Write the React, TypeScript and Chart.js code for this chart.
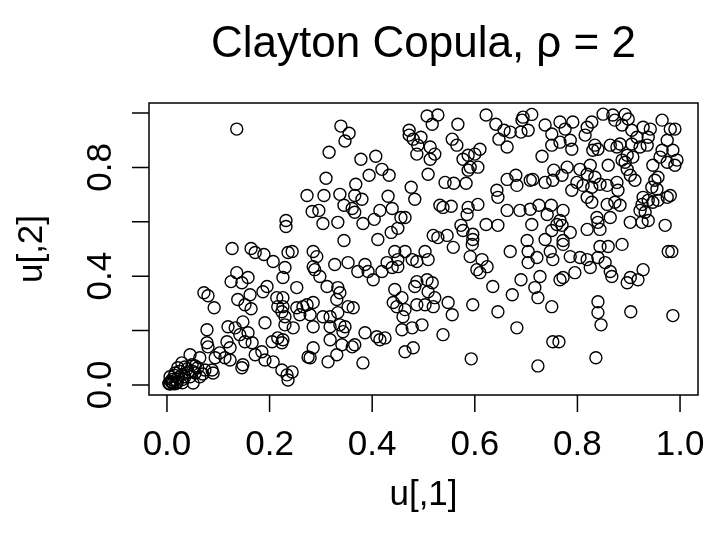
import { useEffect, useRef } from "react";
import { Chart, registerables } from "chart.js";

Chart.register(...registerables);

const titleText = "Clayton Copula, \u03c1 = 2";
const xLabel = "u[,1]";
const yLabel = "u[,2]";
const xTicks = [0, 0.2, 0.4, 0.6, 0.8, 1.0];
const xTickLabels = ["0.0", "0.2", "0.4", "0.6", "0.8", "1.0"];
const yTicks = [0, 0.2, 0.4, 0.6, 0.8, 1.0];
const yTickLabels = ["0.0", "", "0.4", "", "0.8", ""];
const xRange = [-0.035, 1.035];
const yRange = [-0.037, 1.037];

// simulated copula sample, read off the picture region by region
const lowCorner: [number, number][] = [
  [0.127, 0.502], [0.164, 0.502], [0.172, 0.487], [0.189, 0.48], [0.207, 0.454], [0.136, 0.413], [0.125, 0.38], [0.146, 0.376], [0.158, 0.395], [0.072, 0.339],
  [0.08, 0.328], [0.092, 0.284], [0.162, 0.332], [0.138, 0.314], [0.152, 0.295], [0.164, 0.28], [0.187, 0.343], [0.195, 0.362], [0.214, 0.321], [0.216, 0.288],
  [0.078, 0.203], [0.119, 0.214], [0.133, 0.21], [0.148, 0.232], [0.142, 0.185], [0.158, 0.192], [0.152, 0.159], [0.166, 0.155], [0.117, 0.159], [0.123, 0.137],
  [0.191, 0.229], [0.216, 0.173], [0.205, 0.159], [0.078, 0.155], [0.08, 0.14], [0.103, 0.118], [0.113, 0.1], [0.123, 0.092], [0.094, 0.1], [0.172, 0.111],
  [0.185, 0.122], [0.191, 0.092], [0.207, 0.085], [0.148, 0.074], [0.146, 0.063], [0.224, 0.055], [0.045, 0.111], [0.064, 0.1], [0.088, 0.055], [0.09, 0.044],
  [0.074, 0.055], [0.055, 0.044], [0.029, 0.081], [0.035, 0.066], [0.021, 0.063], [0.049, 0.074], [0.06, 0.063], [0.041, 0.048], [0.029, 0.037], [0.016, 0.044],
  [0.006, 0.03], [0.01, 0.011], [0.004, 0.005], [0.012, 0.005], [0.019, 0.007], [0.021, 0.026], [0.035, 0.03], [0.051, 0.007], [0.064, 0.03], [0.016, 0.004],
  [0.006, 0.003], [0.004, 0.007], [0.01, 0.02], [0.02, 0.012], [0.015, 0.035], [0.03, 0.02], [0.025, 0.05], [0.04, 0.06], [0.045, 0.03], [0.05, 0.05],
  [0.055, 0.07], [0.07, 0.04], [0.008, 0.012], [0.03, 0.008],
];

const lowMiddle: [number, number][] = [
  [0.236, 0.487], [0.244, 0.491], [0.285, 0.491], [0.292, 0.472], [0.285, 0.435], [0.288, 0.424], [0.298, 0.399], [0.312, 0.362], [0.327, 0.443], [0.353, 0.45],
  [0.372, 0.417], [0.386, 0.443], [0.392, 0.417], [0.402, 0.387], [0.419, 0.417], [0.429, 0.45], [0.439, 0.432], [0.45, 0.435], [0.45, 0.461], [0.444, 0.491],
  [0.464, 0.491], [0.478, 0.461], [0.487, 0.38], [0.483, 0.362], [0.23, 0.432], [0.226, 0.395], [0.253, 0.358], [0.333, 0.358], [0.337, 0.339], [0.331, 0.314],
  [0.444, 0.351], [0.458, 0.321], [0.441, 0.303], [0.448, 0.288], [0.464, 0.277], [0.46, 0.251], [0.487, 0.295], [0.226, 0.321], [0.226, 0.288], [0.23, 0.251],
  [0.224, 0.269], [0.253, 0.284], [0.265, 0.288], [0.273, 0.295], [0.285, 0.303], [0.259, 0.258], [0.279, 0.258], [0.246, 0.21], [0.285, 0.214], [0.304, 0.251],
  [0.318, 0.251], [0.333, 0.266], [0.353, 0.288], [0.363, 0.284], [0.318, 0.214], [0.337, 0.221], [0.347, 0.214], [0.343, 0.196], [0.318, 0.166], [0.341, 0.148],
  [0.361, 0.14], [0.366, 0.148], [0.386, 0.192], [0.409, 0.177], [0.415, 0.166], [0.425, 0.173], [0.285, 0.137], [0.275, 0.103], [0.279, 0.1], [0.314, 0.085],
  [0.331, 0.111], [0.382, 0.081], [0.458, 0.203], [0.478, 0.21], [0.464, 0.122], [0.48, 0.137], [0.23, 0.221], [0.226, 0.166], [0.224, 0.155], [0.234, 0.037],
  [0.244, 0.048], [0.236, 0.018],
];

const upperLeft: [number, number][] = [
  [0.136, 0.941], [0.339, 0.952], [0.355, 0.926], [0.347, 0.897], [0.316, 0.856], [0.378, 0.83], [0.407, 0.841], [0.419, 0.793], [0.433, 0.771], [0.394, 0.771],
  [0.31, 0.76], [0.368, 0.738], [0.273, 0.697], [0.306, 0.697], [0.337, 0.701], [0.366, 0.697], [0.38, 0.683], [0.431, 0.694], [0.476, 0.727], [0.483, 0.683],
  [0.283, 0.638], [0.296, 0.642], [0.345, 0.661], [0.361, 0.649], [0.366, 0.635], [0.415, 0.642], [0.439, 0.649], [0.456, 0.616], [0.464, 0.616], [0.304, 0.594],
  [0.333, 0.598], [0.382, 0.594], [0.404, 0.609], [0.437, 0.561], [0.45, 0.576], [0.345, 0.531], [0.411, 0.535], [0.232, 0.605], [0.232, 0.583], [0.472, 0.919],
  [0.48, 0.904], [0.472, 0.937], [0.487, 0.849],
];

const upperMiddle: [number, number][] = [
  [0.507, 0.989], [0.528, 0.993], [0.517, 0.959], [0.567, 0.959], [0.622, 0.993], [0.641, 0.959], [0.657, 0.937], [0.647, 0.904], [0.663, 0.875], [0.669, 0.93],
  [0.69, 0.93], [0.704, 0.937], [0.694, 0.985], [0.711, 0.995], [0.692, 0.974], [0.737, 0.956], [0.75, 0.923], [0.75, 0.882], [0.731, 0.841], [0.495, 0.911],
  [0.489, 0.882], [0.513, 0.875], [0.522, 0.849], [0.513, 0.83], [0.556, 0.904], [0.565, 0.882], [0.577, 0.83], [0.587, 0.845], [0.6, 0.849], [0.61, 0.867],
  [0.606, 0.801], [0.591, 0.801], [0.587, 0.79], [0.509, 0.775], [0.542, 0.745], [0.559, 0.742], [0.583, 0.742], [0.663, 0.756], [0.68, 0.771], [0.682, 0.734],
  [0.708, 0.753], [0.713, 0.756], [0.737, 0.745], [0.754, 0.79], [0.643, 0.716], [0.645, 0.69], [0.532, 0.661], [0.538, 0.653], [0.554, 0.657], [0.587, 0.653],
  [0.606, 0.664], [0.585, 0.627], [0.663, 0.642], [0.688, 0.642], [0.708, 0.646], [0.725, 0.661], [0.741, 0.627], [0.749, 0.661], [0.711, 0.59], [0.573, 0.587],
  [0.577, 0.568], [0.596, 0.554], [0.596, 0.535], [0.622, 0.59], [0.645, 0.587], [0.519, 0.55], [0.528, 0.542], [0.546, 0.55], [0.702, 0.531], [0.737, 0.535],
];

const upperRight: [number, number][] = [
  [0.85, 0.996], [0.869, 0.993], [0.873, 0.974], [0.893, 0.995], [0.899, 0.978], [0.887, 0.956], [0.906, 0.937], [0.916, 0.911], [0.928, 0.948], [0.942, 0.941],
  [0.938, 0.911], [0.965, 0.974], [0.981, 0.941], [0.99, 0.941], [0.766, 0.967], [0.791, 0.967], [0.776, 0.941], [0.828, 0.967], [0.819, 0.948], [0.815, 0.919],
  [0.766, 0.893], [0.786, 0.9], [0.789, 0.867], [0.834, 0.882], [0.83, 0.863], [0.84, 0.867], [0.864, 0.882], [0.877, 0.875], [0.883, 0.886], [0.906, 0.886],
  [0.922, 0.875], [0.936, 0.882], [0.975, 0.9], [0.965, 0.863], [0.986, 0.863], [0.897, 0.845], [0.908, 0.838], [0.893, 0.819], [0.887, 0.827], [0.961, 0.838],
  [0.975, 0.819], [0.994, 0.827], [0.99, 0.808], [0.947, 0.808], [0.86, 0.808], [0.825, 0.808], [0.78, 0.801], [0.805, 0.793], [0.77, 0.771], [0.752, 0.753],
  [0.819, 0.775], [0.897, 0.793], [0.903, 0.771], [0.912, 0.753], [0.834, 0.764], [0.844, 0.738], [0.877, 0.745], [0.799, 0.745], [0.811, 0.734], [0.789, 0.716],
  [0.828, 0.727], [0.858, 0.734], [0.879, 0.716], [0.951, 0.753], [0.957, 0.764], [0.945, 0.727], [0.955, 0.72], [0.975, 0.69], [0.981, 0.697], [0.819, 0.69],
  [0.828, 0.672], [0.858, 0.664], [0.873, 0.672], [0.883, 0.661], [0.928, 0.69], [0.938, 0.679], [0.947, 0.672], [0.957, 0.679], [0.926, 0.664], [0.922, 0.642],
  [0.932, 0.635], [0.772, 0.642], [0.766, 0.605], [0.76, 0.59], [0.77, 0.587], [0.786, 0.561], [0.772, 0.531], [0.838, 0.616], [0.84, 0.598], [0.864, 0.616],
  [0.844, 0.572], [0.819, 0.572], [0.903, 0.598], [0.926, 0.598], [0.938, 0.605], [0.971, 0.587], [0.75, 0.568],
];

const lowerMiddle: [number, number][] = [
  [0.558, 0.506], [0.595, 0.517], [0.669, 0.491], [0.704, 0.491], [0.721, 0.469], [0.704, 0.45], [0.747, 0.491], [0.752, 0.461], [0.503, 0.491], [0.509, 0.461],
  [0.487, 0.454], [0.591, 0.472], [0.614, 0.461], [0.624, 0.435], [0.604, 0.424], [0.61, 0.413], [0.635, 0.362], [0.507, 0.387], [0.517, 0.376], [0.509, 0.343],
  [0.522, 0.321], [0.503, 0.295], [0.519, 0.288], [0.548, 0.303], [0.556, 0.258], [0.596, 0.295], [0.645, 0.269], [0.673, 0.332], [0.69, 0.387], [0.727, 0.399],
  [0.717, 0.358], [0.723, 0.321], [0.75, 0.288], [0.497, 0.221], [0.538, 0.185], [0.682, 0.21], [0.593, 0.096], [0.723, 0.07], [0.752, 0.159],
];

const lowerRight: [number, number][] = [
  [0.772, 0.517], [0.786, 0.472], [0.805, 0.469], [0.819, 0.461], [0.84, 0.469], [0.844, 0.509], [0.86, 0.509], [0.887, 0.517], [0.854, 0.45], [0.864, 0.417],
  [0.867, 0.399], [0.825, 0.432], [0.795, 0.413], [0.766, 0.387], [0.772, 0.395], [0.897, 0.376], [0.903, 0.395], [0.918, 0.387], [0.928, 0.424], [0.977, 0.491],
  [0.984, 0.491], [0.84, 0.306], [0.84, 0.266], [0.846, 0.221], [0.904, 0.269], [0.986, 0.255], [0.764, 0.159], [0.836, 0.1],
];

const samples = [...lowCorner, ...lowMiddle, ...upperLeft, ...upperMiddle, ...upperRight, ...lowerMiddle, ...lowerRight];
const u1 = samples.map((p) => p[0]);
const u2 = samples.map((p) => p[1]);

const FONT = '"Liberation Sans", Arial, Helvetica, sans-serif';

const rBasePlot = {
  id: "rBasePlot",
  afterDraw(chart: any) {
    const { ctx, chartArea: a, scales } = chart;
    const xs = scales.x;
    const ys = scales.y;
    ctx.save();
    ctx.strokeStyle = "#000";
    ctx.fillStyle = "#000";
    ctx.lineWidth = 1.5;
    ctx.strokeRect(a.left, a.top, a.right - a.left, a.bottom - a.top);
    ctx.beginPath();
    xTicks.forEach((v) => {
      const p = xs.getPixelForValue(v);
      ctx.moveTo(p, a.bottom);
      ctx.lineTo(p, a.bottom + 17);
    });
    yTicks.forEach((v) => {
      const p = ys.getPixelForValue(v);
      ctx.moveTo(a.left, p);
      ctx.lineTo(a.left - 17, p);
    });
    ctx.stroke();

    ctx.font = `35px ${FONT}`;
    ctx.textAlign = "center";
    ctx.textBaseline = "alphabetic";
    xTicks.forEach((v, i) => {
      ctx.fillText(xTickLabels[i], xs.getPixelForValue(v), 455);
    });
    yTicks.forEach((v, i) => {
      if (!yTickLabels[i]) return;
      ctx.save();
      ctx.translate(111, ys.getPixelForValue(v));
      ctx.rotate(-Math.PI / 2);
      ctx.fillText(yTickLabels[i], 0, 0);
      ctx.restore();
    });
    const cx = (a.left + a.right) / 2;
    const cy = (a.top + a.bottom) / 2;
    ctx.fillText(xLabel, cx, 505);
    ctx.save();
    ctx.translate(42, cy);
    ctx.rotate(-Math.PI / 2);
    ctx.fillText(yLabel, 0, 0);
    ctx.restore();

    ctx.font = `44px ${FONT}`;
    ctx.fillText(titleText, cx, 57);
    ctx.restore();
  },
};

export default function App() {
  const canvasRef = useRef<HTMLCanvasElement | null>(null);
  useEffect(() => {
    document.body.style.margin = "0";
    const canvas = canvasRef.current;
    if (!canvas) return;
    const chart = new Chart(canvas, {
      type: "scatter",
      data: {
        datasets: [
          {
            data: u1.map((x, i) => ({ x, y: u2[i] })),
            pointStyle: "circle",
            pointRadius: 6,
            pointHoverRadius: 6,
            pointBorderWidth: 1.4,
            borderColor: "#000",
            backgroundColor: "rgba(0,0,0,0)",
            clip: false as any,
          },
        ],
      },
      options: {
        responsive: false,
        animation: false,
        devicePixelRatio: 1,
        events: [],
        layout: { padding: { left: 149, top: 103, right: 9, bottom: 138 } },
        plugins: { legend: { display: false }, tooltip: { enabled: false }, title: { display: false } },
        scales: {
          x: { type: "linear", min: xRange[0], max: xRange[1], display: false },
          y: { type: "linear", min: yRange[0], max: yRange[1], display: false },
        },
      },
      plugins: [rBasePlot],
    });
    return () => chart.destroy();
  }, []);
  return (
    <div style={{ position: "fixed", left: 0, top: 0, width: 707, height: 533, background: "#fff" }}>
      <canvas ref={canvasRef} width={707} height={533} style={{ width: 707, height: 533 }} />
    </div>
  );
}
